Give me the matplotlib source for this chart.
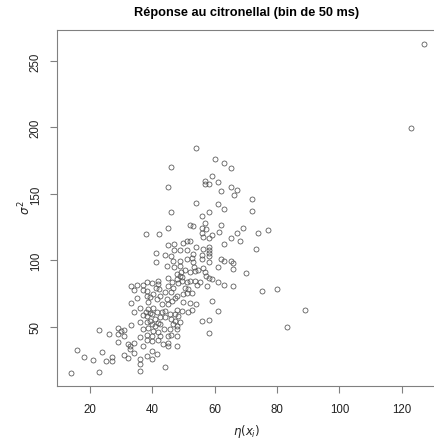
import numpy as np
import matplotlib
matplotlib.use("Agg")
import matplotlib.pyplot as plt

# eta(x_i) : mean response per bin, sigma^2 : variance per bin
eta = [
    127.1, 123.1, 89.0, 83.1, 79.9, 75.1, 70.0, 73.2, 74.0, 77.0,
    72.1, 72.1, 69.0, 67.1, 65.1, 68.1, 63.1, 66.0, 66.0, 63.0,
    61.9, 65.2, 61.0, 63.0, 66.0, 61.0, 59.0, 58.0, 57.2, 56.9,
    56.3, 59.0, 61.0, 56.0, 58.0, 58.0, 52.1, 54.0, 56.0, 58.0,
    58.0, 58.0, 58.0, 58.0, 56.1, 54.0, 52.1, 51.0, 49.9, 47.0,
    44.9, 49.0, 51.0, 47.0, 46.0, 44.1, 41.1, 41.1, 38.0, 42.0,
    44.9, 51.9, 53.1, 56.9, 56.0, 57.1, 56.0, 56.1, 58.2, 59.0,
    61.2, 62.0, 58.0, 56.0, 54.0, 61.0, 63.0, 46.0, 45.0, 46.0,
    54.0, 60.1, 63.1, 65.1, 59.0, 57.0, 58.0, 56.9, 60.9, 62.0,
    65.1, 67.1, 66.1,
    46.7, 48.9, 51.0, 52.6, 52.9, 55.9,
    44.6, 47.0, 48.7, 50.3, 49.2, 47.8, 48.9, 52.1, 53.7, 52.9,
    53.3, 54.7, 51.0, 51.5, 51.0,
    38.2, 39.8, 41.9, 44.9, 46.2, 45.1, 46.7, 48.3, 49.6, 52.1,
    53.7, 54.2, 50.5, 52.6, 55.3, 57.4, 41.9, 47.8, 49.4,
    33.1, 34.1, 35.0, 36.9, 36.9, 41.1, 42.2,
    38.2, 38.4, 39.2, 40.3, 41.4, 42.5, 44.1, 46.0, 44.6, 46.2,
    47.3, 47.8, 49.9, 49.9, 33.1, 35.0, 38.7, 43.0, 45.1,
    48.0, 49.4, 52.6, 51.5, 38.7, 40.3, 41.4, 43.0, 44.1, 45.7,
    34.1, 36.0, 38.0, 37.1, 39.2, 38.2, 39.8, 47.3, 48.3,
    44.1, 42.5, 40.9, 39.2, 38.2, 46.0, 47.3, 48.9, 46.7, 47.8,
    39.8, 40.9, 41.9, 36.0, 33.1, 43.7, 42.5,
    38.7, 40.3, 41.9, 45.7, 47.8, 46.0, 47.8, 38.2, 39.8, 38.2,
    39.8, 41.9, 43.5, 44.9, 45.1, 47.8, 37.1, 36.0, 42.5, 45.1,
    39.8, 41.4, 38.2, 39.8, 44.1, 36.0, 36.0, 36.0, 31.0, 32.1,
    34.0, 32.1, 32.9, 32.9, 34.0, 37.1, 29.0, 30.9, 29.0, 30.9,
    30.0, 29.0, 26.0, 23.0, 23.9, 25.0, 27.0, 27.0, 21.0, 18.0,
    15.9, 14.0, 23.0,
]
sigma2 = [
    263.0, 199.4, 62.8, 49.8, 78.6, 76.8, 90.6, 108.7, 120.3, 123.2,
    146.3, 137.5, 124.2, 120.7, 116.9, 114.9, 112.4, 97.9, 93.6, 99.9,
    101.1, 99.9, 95.3, 81.8, 81.1, 83.6, 86.1, 86.6, 88.6, 91.1,
    94.4, 69.3, 61.8, 54.3, 55.3, 45.3, 67.8, 67.3, 101.1, 98.7,
    110.0, 107.9, 105.4, 103.6, 108.7, 109.9, 115.0, 114.4, 112.8, 112.4,
    111.7, 108.1, 107.9, 107.9, 103.6, 104.1, 105.6, 99.1, 120.0, 120.0,
    124.5, 126.3, 125.7, 128.2, 124.2, 123.3, 120.5, 117.5, 116.9, 119.4,
    121.7, 126.7, 136.3, 133.7, 143.2, 142.3, 138.4, 136.7, 155.5, 170.6,
    184.6, 176.3, 173.3, 169.6, 163.2, 159.6, 157.8, 157.8, 159.3, 152.5,
    155.1, 153.3, 149.3,
    99.9, 99.9, 101.1, 101.7, 104.9, 104.1,
    96.1, 94.9, 95.6, 93.1, 91.1, 89.9, 88.6, 91.1, 92.3, 98.7,
    94.9, 93.1, 83.6, 78.6, 75.6,
    83.6, 82.9, 84.8, 86.6, 84.1, 81.1, 79.3, 83.1, 84.8, 84.8,
    84.8, 81.6, 79.1, 75.6, 83.6, 81.1, 82.3, 86.1, 87.4,
    80.6, 78.1, 81.6, 81.6, 77.8, 79.1, 78.6,
    77.3, 73.5, 72.3, 74.8, 71.1, 73.5, 76.1, 76.1, 71.1, 69.8,
    71.6, 73.5, 74.8, 68.6, 68.0, 71.6, 69.0, 67.3, 67.3,
    63.0, 62.3, 63.0, 61.1, 63.5, 64.1, 61.5, 61.1, 62.3, 59.8,
    61.5, 64.1, 61.5, 59.0, 60.5, 58.5, 59.8, 59.8, 58.5,
    57.3, 57.3, 56.0, 54.7, 53.5, 56.0, 54.7, 54.0, 52.3, 51.0,
    52.3, 50.5, 53.0, 54.0, 51.5, 48.5, 52.3,
    49.0, 47.2, 46.0, 48.5, 48.5, 44.0, 43.0, 44.0, 43.5, 40.5,
    39.7, 40.5, 37.2, 35.9, 38.0, 35.5, 48.5, 42.3, 43.0, 43.0,
    32.2, 29.7, 28.4, 25.9, 19.7, 25.9, 22.2, 16.7, 28.9, 26.5,
    30.2, 37.2, 35.7, 33.5, 37.7, 35.9, 38.5, 43.0, 44.5, 48.0,
    47.0, 49.0, 44.7, 47.5, 31.4, 24.4, 27.2, 24.2, 25.4, 27.2,
    32.9, 15.2, 16.4,
]

x_ticks = [20, 40, 60, 80, 100, 120]
y_ticks = [50, 100, 150, 200, 250]

plt.rcParams['font.family'] = ['Liberation Sans', 'DejaVu Sans']
plt.rcParams['mathtext.fontset'] = 'dejavusans'
plt.rcParams['savefig.bbox'] = 'standard'

W, H = 434, 439
fig = plt.figure(figsize=(W / 100, H / 100), dpi=100)
ax = fig.add_axes([57 / W, 1 - 387 / H, (438 - 57) / W, (387 - 31) / H])

ax.plot(eta, sigma2, linestyle='none', marker='o', markersize=3.6,
        markerfacecolor='none', markeredgecolor='#505050', markeredgewidth=0.55)

ax.set_xlim(9.4, 131.6)
ax.set_ylim(5.6, 273.3)
ax.set_xticks(x_ticks)
ax.set_yticks(y_ticks)
ax.set_xticklabels([str(v) for v in x_ticks])
ax.set_yticklabels([str(v) for v in y_ticks], rotation=90, va='center')

for s in ax.spines.values():
    s.set_color('#808080')
    s.set_linewidth(0.8)
ax.tick_params(axis='both', direction='out', length=5, width=0.8,
               color='#808080', labelsize=8.3, labelcolor='#222222')
ax.tick_params(axis='x', pad=7)
ax.tick_params(axis='y', pad=6)

fig.text(247 / W, 1 - 13 / H, 'Réponse au citronellal (bin de 50 ms)',
         ha='center', va='center', fontsize=9.2, fontweight='bold')
fig.text(247 / W, 1 - 432 / H, r'$\eta(x_i)$', ha='center', va='center',
         fontsize=8.5, color='#222222')
fig.text(25 / W, 1 - 208 / H, r'$\sigma^2$', ha='center', va='center',
         rotation=90, fontsize=8.5, color='#222222')

fig.savefig('out.png', dpi=100, bbox_inches=None)
